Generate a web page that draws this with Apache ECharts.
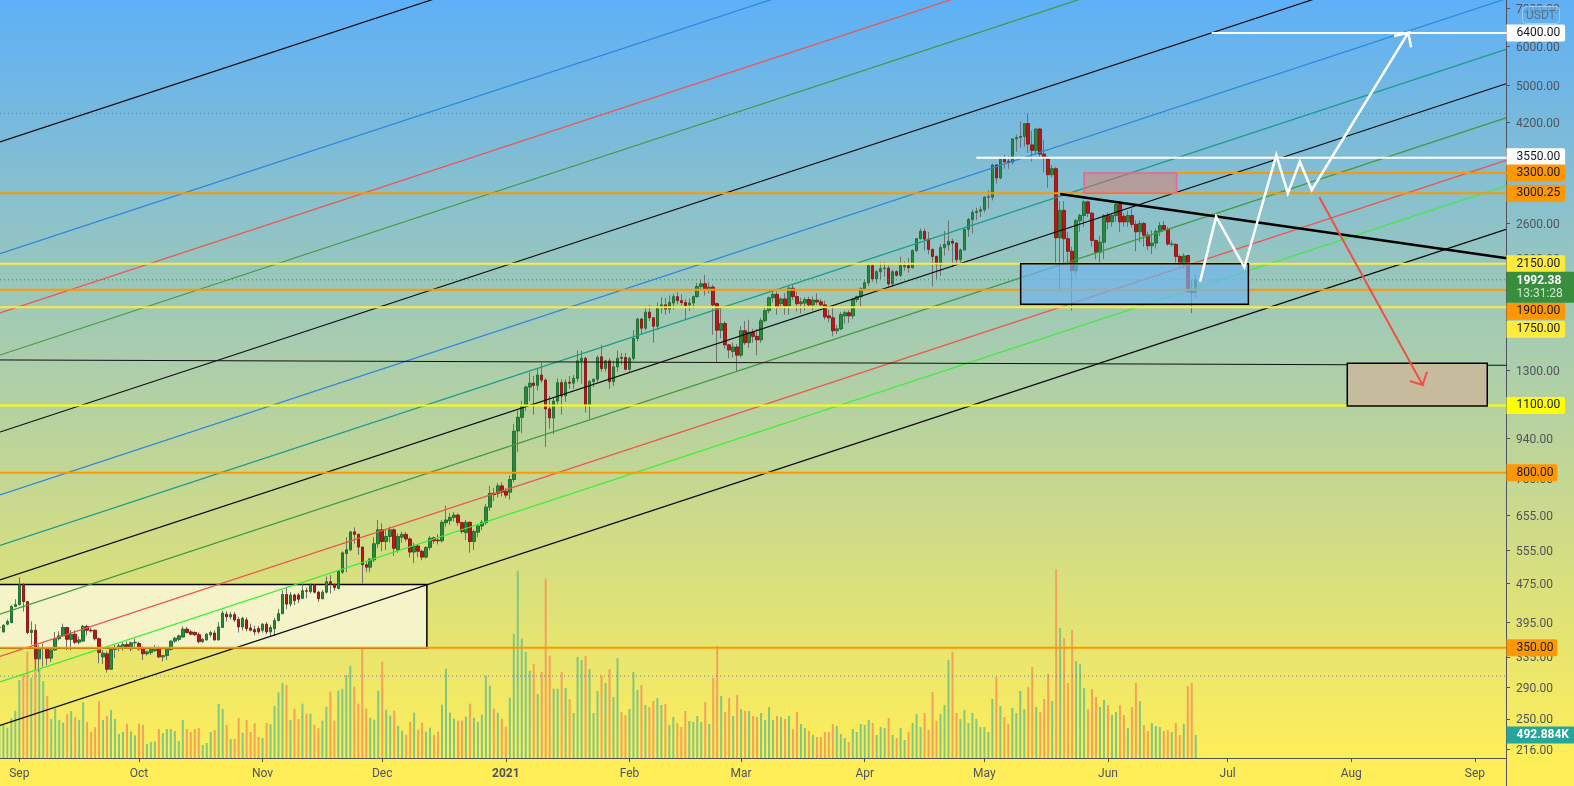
<!DOCTYPE html>
<html><head><meta charset="utf-8">
<style>html,body{margin:0;padding:0;background:#fff}#c{width:1574px;height:786px}</style>
<script src="https://cdn.jsdelivr.net/npm/echarts@6/dist/echarts.min.js"></script></head>
<body><div id="c"></div>
<script>
// Daily candles from 27 Aug 2020 (day -5 relative to 1 Sep 2020): open, high, low, close
const ohlc = [
[385,395,378,385],[377,391,376,389],[391,400,389,396],[394,428,393,425],[425,440,424,429],
[429,488,427,471],[471,475,415,435],[435,436,373,376],[376,396,355,380],[380,391,316,332],
[332,354,312,349],[349,357,320,350],[350,351,322,333],[333,351,327,346],[346,377,346,365],
[365,378,362,370],[370,392,369,385],[385,386,346,364],[364,380,346,373],[373,380,356,359],
[359,369,355,363],[361,390,360,387],[387,390,371,380],[380,384,376,379],[380,381,362,365],
[365,367,325,342],[335,346,324,341],[340,344,311,316],[316,350,315,347],[347,355,333,350],
[349,356,344,353],[349,359,345,355],[355,360,348,349],[348,360,344,358],[358,365,350,359],
[357,360,345,348],[350,352,330,340],[340,345,337,343],[342,350,338,348],[345,354,343,350],
[350,352,333,335],[335,338,328,337],[337,350,330,348],[347,362,345,361],[361,368,358,366],
[364,372,361,370],[368,387,367,382],[382,386,374,376],[377,381,371,373],[376,378,370,372],
[372,376,357,360],[360,366,358,364],[363,375,362,373],[372,379,368,376],[375,380,362,363],
[363,395,362,386],[385,417,384,412],[410,416,396,405],[405,414,400,409],[409,414,395,399],
[400,405,376,386],[386,405,380,402],[399,404,378,383],[384,392,378,380],[381,388,371,377],
[383,388,374,377],[380,393,376,391],[391,395,373,377],[377,390,368,385],[383,403,370,398],
[398,420,396,411],[411,459,410,450],[450,466,420,430],[430,455,425,449],[449,452,428,437],
[449,453,432,440],[442,472,440,458],[458,465,442,457],[456,475,452,470],[470,473,452,455],
[455,458,435,441],[441,460,440,455],[455,490,452,478],[478,493,452,472],[472,475,458,465],
[463,505,461,502],[500,552,496,548],[546,590,500,556],[556,607,552,605],[605,618,572,598],
[598,600,543,563],[563,565,474,518],[518,525,500,512],[512,535,500,532],[530,590,525,572],
[572,640,560,611],[611,630,552,578],[578,612,555,592],[592,620,575,611],[611,615,540,560],
[555,600,548,592],[590,606,575,598],[598,605,578,585],[585,590,536,550],[550,575,522,566],
[566,570,537,552],[552,556,529,537],[537,565,533,562],[562,592,555,587],[588,592,572,580],
[582,598,570,580],[580,640,575,633],[632,685,620,640],[638,662,625,648],[648,665,635,655],
[655,660,622,632],[632,635,600,606],[603,640,582,633],[633,636,548,578],[578,612,555,606],
[604,625,590,622],[622,640,610,633],[632,690,625,680],[680,752,668,726],[726,745,700,722],
[725,762,712,752],[752,765,715,730],[733,745,710,720],[730,790,705,775],[775,1008,765,974],
[975,1075,883,1040],[1040,1125,965,1095],[1097,1210,1071,1200],[1200,1285,1123,1222],[1222,1265,1053,1210],
[1210,1310,1180,1270],[1270,1345,1225,1240],[1240,1250,904,1082],[1082,1150,985,1037],[1037,1145,960,1123],
[1123,1250,1100,1225],[1225,1245,1053,1150],[1152,1245,1120,1228],[1228,1265,1190,1222],[1222,1270,1190,1250],
[1250,1425,1228,1358],[1358,1425,1220,1375],[1375,1385,1063,1097],[1100,1240,1030,1232],[1232,1250,1200,1245],
[1245,1395,1230,1380],[1385,1465,1290,1310],[1310,1365,1290,1358],[1358,1375,1190,1231],[1231,1360,1205,1320],
[1320,1425,1290,1375],[1380,1410,1335,1375],[1380,1410,1300,1305],[1305,1385,1290,1375],[1375,1570,1360,1510],
[1510,1665,1490,1655],[1655,1665,1540,1585],[1585,1760,1570,1710],[1710,1770,1640,1665],[1665,1670,1480,1600],
[1600,1790,1570,1745],[1745,1835,1700,1770],[1770,1830,1690,1735],[1735,1850,1700,1790],[1785,1865,1730,1840],
[1840,1880,1775,1805],[1805,1860,1765,1790],[1790,1820,1648,1765],[1770,1825,1720,1785],[1785,1850,1735,1840],
[1840,1965,1830,1930],[1930,1990,1905,1955],[1955,2040,1850,1900],[1900,1970,1870,1925],[1925,1945,1537,1770],
[1780,1790,1347,1570],[1570,1740,1510,1620],[1620,1640,1440,1465],[1465,1470,1375,1430],[1420,1480,1380,1450],
[1450,1470,1295,1395],[1395,1600,1380,1566],[1566,1640,1465,1480],[1480,1650,1445,1555],[1555,1580,1480,1525],
[1525,1580,1395,1500],[1500,1665,1480,1642],[1642,1755,1630,1722],[1722,1840,1700,1830],[1830,1890,1790,1860],
[1860,1885,1690,1750],[1780,1835,1740,1820],[1820,1870,1690,1762],[1762,1930,1690,1915],[1915,1945,1810,1840],
[1840,1885,1715,1780],[1780,1830,1700,1795],[1785,1835,1725,1815],[1815,1840,1745,1770],[1770,1840,1725,1810],
[1810,1870,1770,1795],[1795,1820,1745,1770],[1770,1805,1650,1672],[1680,1730,1630,1665],[1665,1760,1525,1566],
[1566,1610,1540,1580],[1580,1710,1570,1690],[1680,1720,1620,1705],[1705,1725,1625,1680],[1680,1830,1655,1815],
[1815,1850,1790,1840],[1840,1925,1755,1910],[1910,1990,1895,1965],[1965,2145,1935,2130],[2130,2145,1975,2000],
[2000,2090,1960,2070],[2070,2165,2000,2100],[2100,2165,2020,2105],[2105,2130,1930,1955],[1955,2090,1925,2070],
[2070,2085,2025,2035],[2035,2225,2020,2130],[2120,2170,2080,2130],[2130,2210,2060,2110],[2110,2300,2100,2288],
[2288,2430,2270,2420],[2420,2540,2410,2505],[2505,2540,2290,2415],[2415,2500,2250,2300],[2300,2310,1930,2225],
[2225,2235,2000,2140],[2140,2360,2030,2320],[2320,2510,2235,2355],[2350,2638,2288,2390],[2390,2420,2115,2370],
[2370,2375,2140,2192],[2192,2310,2145,2295],[2295,2535,2290,2530],[2530,2670,2440,2650],[2650,2775,2480,2740],
[2740,2800,2640,2755],[2755,2820,2680,2775],[2775,2960,2740,2945],[2945,3040,2790,2950],[2945,3440,2900,3430],
[3430,3440,3140,3225],[3225,3530,3205,3520],[3520,3600,3370,3480],[3490,3575,3370,3465],[3475,3880,3440,3880],
[3880,3960,3650,3905],[3905,4210,3720,3925],[3925,4170,3740,4170],[4170,4380,3630,3785],[3770,4030,3490,3675],
[3675,4065,3600,4065],[4065,4090,3550,3610],[3610,3860,3310,3550],[3550,3575,3080,3275],[3275,3430,3230,3370],
[3370,3400,2130,2430],[2430,2890,1878,2767],[2767,2890,2130,2420],[2420,2500,2150,2280],[2280,2330,1722,2081],
[2081,2660,2040,2635],[2635,2720,2500,2700],[2700,2900,2560,2880],[2880,2895,2680,2730],[2730,2750,2330,2400],
[2400,2410,2195,2270],[2270,2455,2160,2380],[2380,2720,2200,2700],[2700,2740,2530,2620],[2620,2720,2560,2700],
[2700,2880,2620,2845],[2845,2890,2500,2620],[2690,2730,2560,2620],[2620,2760,2560,2700],[2700,2790,2550,2590],
[2590,2640,2280,2500],[2500,2640,2380,2600],[2600,2620,2330,2460],[2460,2500,2290,2340],[2340,2520,2250,2370],
[2370,2540,2310,2505],[2505,2620,2450,2575],[2575,2630,2520,2530],[2530,2560,2340,2360],[2355,2400,2330,2360],
[2355,2370,2160,2225],[2225,2245,2120,2155],[2155,2260,2110,2230],[2235,2240,1870,1885],[1885,1995,1703,1878],
[1880,2045,1830,1992.38]
];
// Daily volume in thousands, same days as ohlc
const volumes = [
707,707,650,850,1007,1670,1778,2278,1721,2278,1899,1649,1328,835,1064,814,757,942,1007,871,
814,1192,771,557,657,1221,814,907,1028,835,514,557,735,571,486,735,714,300,343,357,
621,535,621,621,578,364,814,621,557,621,643,278,321,557,600,1157,1050,707,407,407,
857,543,814,557,750,450,428,750,728,1114,1407,1607,1564,814,1050,835,
1164,950,950,714,643,800,1100,1421,800,1442,1485,1778,1978,1528,1164,2535,1057,864,821,1442,
2063,1035,907,1014,693,585,500,778,971,607,757,564,650,500,564,1142,1914,971,842,800,
800,885,1164,864,778,928,1764,1549,1057,971,842,671,1292,2663,4013,2556,2278,1871,2020,1378,
1849,3841,2192,1485,1485,1842,1499,1264,964,2163,2099,2185,1906,964,1435,1778,1606,1906,1307,2142,
985,921,1050,1842,1457,1564,1135,1092,1221,1285,1135,1157,707,878,750,664,1007,793,771,900,
771,1200,728,1714,2399,1328,985,1285,900,1349,1050,1007,1007,900,878,964,814,1092,814,900,
878,835,900,621,985,728,643,578,493,450,450,557,557,728,685,514,428,343,621,557,
728,707,814,750,493,664,643,857,493,428,
643,386,557,750,942,664,964,600,1414,793,942,1135,2099,2271,964,835,1028,750,964,835,
664,664,557,1264,1735,1114,878,728,1071,964,1435,1050,1521,1949,1092,985,1264,1799,1221,4048,
2785,2570,1607,2742,2078,2013,1499,1050,1478,1307,1092,1242,1135,921,985,1135,921,643,1092,1607,
1221,707,578,750,685,664,578,600,557,750,493,728,1542,1607,492.884
];
// Price axis labels
const priceTicks = [7200,6000,5000,4200,2600,2200,1300,940,780,655,555,475,395,335,290,250,216];
// Month labels: days after 1 Sep 2020 and their text
const monthDays = [0,30,61,91,122,153,181,212,242,273,303,334,365];
const monthNames = ['Sep','Oct','Nov','Dec','2021','Feb','Mar','Apr','May','Jun','Jul','Aug','Sep'];
// Parallel channel: price at the left and at the right edge of the plot
const channelLeft  = [3823,2255,1703,1396,970,720.6,567.4,482,410,335.7,297.7,242.2];
const channelRight = [39900,23545,17780,14580,10130,7523,5925,5034,4284,3505,3108,2529];
const channelKinds = ['black','blue','red','green','black','blue','teal','black','green','red','lime','black'];
// Horizontal levels
const orangeLevels = [3000.25,1900,800,350];
const yellowLevels = [2150,1750];
const brightLevels = [1100];
const hiLoLevels = [4375,306];
const lastPrice = 1992.38;
// Drawn paths: [day, price]
const thinLine = [[-5,1364],[373,1330]];
const trendLine = [[261,2989],[373,2206]];
const whiteArrow = [[296.1,1975],[300.1,2685],[307.2,2114],[315.2,3595],[318.1,3000],[321.1,3483],[324.1,3047],[348.3,6410],[344.7,6310],[348.3,6410],[349,5982]];
const redArrow = [[326,2943],[351.9,1212],[348.7,1235],[351.9,1212],[353,1290]];
const white3550 = [[240,3550],[373,3550]];
const white6400 = [[299,6400],[373,6400]];
const orange3300 = [[290,3300],[373,3300]];
// Boxes: day from, day to, price a, price b
const creamBox = [-20,102.2,472,349.5];
const blueBox = [251.1,308.2,2150,1775];
const pinkBox = [267,290.2,3300,3000.25];
const brownBox = [333,368.1,1343,1097];
// Axis tags: price, text
const tagLevels = [6400,3550,3300,3000.25,2150,1900,1750,1100,800,350];
const tagTexts = ['6400.00','3550.00','3300.00','3000.25','2150.00','1900.00','1750.00','1100.00','800.00','350.00'];
const tagColors = ['#ffffff','#ffffff','#ff9800','#ff9800','#ffeb3b','#ff9800','#ffeb3b','#ffff00','#ff9800','#ff9800'];
const tagShift = [0,-1,0,0,0,21.5,22,0,0,0];
const tagPadRight = [5,5,5,5,5,5,5,5,4,4];

const xMin = -4.84, xMax = 372.8;
const FONT = 'Roboto, "Open Sans", sans-serif';
const startDay = -5;
const days = ohlc.map((_,k)=>startDay+k);
const C = {black:'#0a0a0a',blue:'#2e86de',red:'#ef5350',green:'#43993f',teal:'#1c9c8c',lime:'#35f035'};

function line(pts,color,width,z,type){
  return {type:'line',data:pts,showSymbol:false,symbol:'none',silent:true,z:z||5,
    lineStyle:{color,width,type:type||'solid',join:'miter'},animation:false};
}
function edge(p){return [[xMin,p],[xMax,p]];}
function box(b,fill,stroke,lw,z){
  return {type:'custom',silent:true,z,clip:false,animation:false,
    data:[[b[0],b[2],b[1],b[3]]],
    encode:{x:[0,2],y:[1,3]},
    renderItem:(params,api)=>{
      const a=api.coord([api.value(0),api.value(1)]), c=api.coord([api.value(2),api.value(3)]);
      return {type:'rect',shape:{x:a[0],y:a[1],width:c[0]-a[0],height:c[1]-a[1]},style:{fill,stroke,lineWidth:lw}};
    }};
}
function tag(price,text,bg,dy,padR){
  return {type:'scatter',data:[[xMax,price]],symbolSize:1,silent:true,z:30,clip:false,
    itemStyle:{color:'rgba(0,0,0,0)',opacity:1},animation:false,
    label:{show:true,position:'right',distance:0,offset:[0,dy],formatter:text,backgroundColor:bg,color:'#131722',
      fontFamily:FONT,fontSize:12,lineHeight:13,padding:[3,padR,1,10],borderRadius:[0,2,2,0]}};
}

const series = [];
series.push({type:'bar',yAxisIndex:1,barWidth:2,silent:true,z:1,animation:false,
  data:volumes.map((v,k)=>({value:[days[k],v],itemStyle:{color:ohlc[k][3]>=ohlc[k][0]?'#82c684':'#f4a15c'}}))});
series.push(box(creamBox,'#f4f4c8','#000',1.5,2));
series.push({type:'candlestick',silent:true,z:3,barWidth:1,animation:false,progressive:0,
  encode:{x:0,y:[1,2,3,4]},
  data:ohlc.map((c,k)=>[days[k],c[0],c[3],c[2],c[1]]),
  itemStyle:{color:'#6f7072',color0:'#6f7072',borderColor:'#6f7072',borderColor0:'#6f7072',borderWidth:1}});
series.push({type:'candlestick',silent:true,z:4,barWidth:3,animation:false,progressive:0,
  encode:{x:0,y:[1,2,3,4]},
  data:ohlc.map((c,k)=>[days[k],c[0],c[3],Math.min(c[0],c[3]),Math.max(c[0],c[3])]),
  itemStyle:{color:'#2a8a3e',color0:'#b71818',borderColor:'#226f33',borderColor0:'#8e1a1a',borderWidth:1}});
channelLeft.forEach((l,k)=>series.push(line([[xMin,l],[xMax,channelRight[k]]],C[channelKinds[k]],1.2,6)));
hiLoLevels.forEach(p=>series.push(line(edge(p),'#7b7b86',1,5,[1,3])));
series.push(line(edge(lastPrice),'#388e3c',1,5,[1,3]));
orangeLevels.forEach(p=>series.push(line(edge(p),'#ff9800',2,7)));
yellowLevels.forEach(p=>series.push(line(edge(p),'#ffeb3b',2,7)));
brightLevels.forEach(p=>series.push(line(edge(p),'#ffff00',2,7)));
series.push(line(orange3300,'#ff9800',2,7));
series.push(line(thinLine,'#111',1,7));
series.push(line(trendLine,'#000',2.5,9));
series.push(line(white3550,'#fff',2,8));
series.push(line(white6400,'#fff',2,8));
series.push(box(blueBox,'rgba(112,180,240,0.68)','#000',1.5,10));
series.push(box(pinkBox,'rgba(245,110,80,0.42)','#f06292',1.5,10));
series.push(box(brownBox,'#c6bb9c','#000',1.5,10));
series.push(line(whiteArrow,'#fff',2.5,11));
series.push(line(redArrow,'#f04f45',2,11));
tagLevels.forEach((p,k)=>series.push(tag(p,tagTexts[k],tagColors[k],tagShift[k],tagPadRight[k])));
series.push({type:'scatter',data:[[xMax,lastPrice]],symbolSize:1,silent:true,z:31,clip:false,animation:false,
  itemStyle:{color:'rgba(0,0,0,0)',opacity:1},
  label:{show:true,position:'right',distance:0,offset:[0,7.5],backgroundColor:'#388e3c',padding:[2,12,2,10],borderRadius:[0,2,2,0],
    formatter:'{a|'+lastPrice.toFixed(2)+'}\n{b|13:31:28}',
    rich:{a:{color:'#fff',fontWeight:'bold',fontFamily:FONT,fontSize:12,lineHeight:14},b:{color:'#cfe6d0',fontFamily:FONT,fontSize:12,lineHeight:13}}}});
series.push({type:'scatter',yAxisIndex:1,data:[[xMax,volumes[volumes.length-1]]],symbolSize:1,silent:true,z:31,clip:false,animation:false,
  itemStyle:{color:'rgba(0,0,0,0)',opacity:1},
  label:{show:true,position:'right',distance:0,backgroundColor:'#26a69a',padding:[3,6,1,10],borderRadius:[0,2,2,0],
    color:'#fff',fontWeight:'bold',fontFamily:FONT,fontSize:12,lineHeight:13,formatter:'492.884K'}});

const chart = echarts.init(document.getElementById('c'),null,{renderer:'canvas'});
chart.setOption({
  animation:false,
  backgroundColor:{type:'linear',x:0,y:0,x2:0,y2:1,colorStops:[{offset:0,color:'#5eb0f7'},{offset:0.965,color:'#ffee58'},{offset:1,color:'#ffee58'}]},
  title:{text:'USDT',left:1522,top:6,padding:[3,4,1,4],borderColor:'#a6cdf0',borderWidth:1,borderRadius:4,z:40,
    backgroundColor:'rgba(98,176,240,0.75)',
    textStyle:{color:'#5a7188',fontSize:12,fontWeight:'normal',fontFamily:FONT,lineHeight:14}},
  grid:{left:0,right:68,top:0,bottom:28,containLabel:false},
  xAxis:{type:'value',min:xMin,max:xMax,
    axisLine:{onZero:false,lineStyle:{color:'#50535e',width:1}},
    axisTick:{show:true,length:4,lineStyle:{color:'#50535e'},customValues:monthDays},
    splitLine:{show:false},
    axisLabel:{customValues:monthDays,margin:10,color:'#50535e',fontFamily:FONT,fontSize:12,hideOverlap:false,
      showMinLabel:true,showMaxLabel:true,
      formatter:v=>{const i=monthDays.indexOf(v);return i<0?'':(monthNames[i]==='2021'?'{b|2021}':monthNames[i]);},
      rich:{b:{fontWeight:'bold',color:'#50535e',fontFamily:FONT,fontSize:12}}}},
  yAxis:[{type:'log',logBase:10,min:207.7,max:7481,position:'right',
    axisLine:{show:true,onZero:false,lineStyle:{color:'#50535e',width:1}},
    axisTick:{show:true,length:4,lineStyle:{color:'#50535e'},customValues:priceTicks},
    splitLine:{show:false},minorTick:{show:false},
    axisLabel:{customValues:priceTicks,margin:10,color:'#50535e',fontFamily:FONT,fontSize:12,hideOverlap:false,verticalAlign:'top',lineHeight:3,
      showMinLabel:true,showMaxLabel:true,formatter:v=>Number(v).toFixed(2)}},
    {type:'value',min:0,max:16243,show:false,axisLine:{show:false,onZero:false},axisTick:{show:false},axisLabel:{show:false},splitLine:{show:false}}],
  graphic:[{type:'line',silent:true,z:50,shape:{x1:1506.5,y1:758,x2:1506.5,y2:786},style:{stroke:'#50535e',lineWidth:1}}],
  series
});
</script></body></html>
